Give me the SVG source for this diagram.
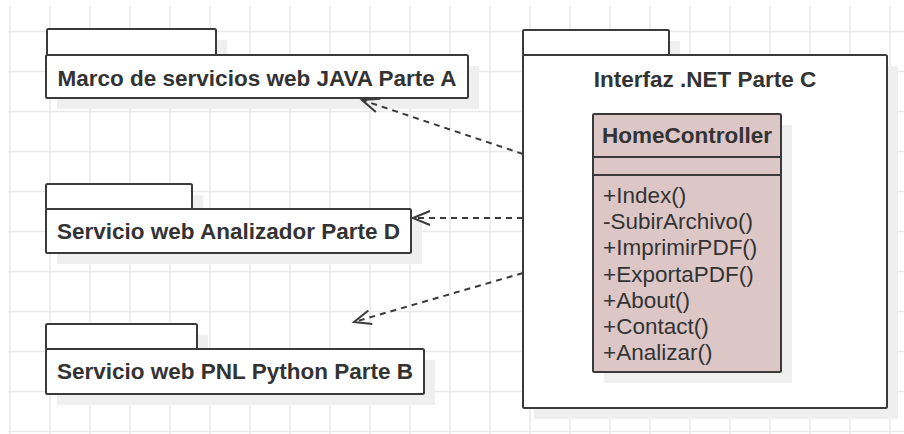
<svg xmlns="http://www.w3.org/2000/svg" width="904" height="434" viewBox="0 0 904 434">
  <style>
    .grid line { stroke: #e9e9e9; stroke-width: 1.5; }
    .shadow { fill: #efefef; stroke: none; }
    .box { fill: #ffffff; stroke: #3a3a3a; stroke-width: 2; }
    .cls { fill: #dcc6c6; stroke: #3a3a3a; stroke-width: 2; }
    .sep { stroke: #3a3a3a; stroke-width: 2; }
    .title { font-family: "Liberation Sans", Arial, sans-serif; font-size: 22.5px; font-weight: bold; fill: #333333; text-anchor: middle; }
    .member { font-family: "Liberation Sans", Arial, sans-serif; font-size: 22.5px; fill: #333333; }
    .dep { fill: none; stroke: #3a3a3a; stroke-width: 2; stroke-dasharray: 6 5; }
    .head { fill: none; stroke: #3a3a3a; stroke-width: 2; stroke-dasharray: none; }
  </style>
  <defs>
    <marker id="open-arrow" markerUnits="userSpaceOnUse" markerWidth="40" markerHeight="40" refX="0" refY="0" orient="auto" overflow="visible">
      <path class="head" d="M -17 -7 L 0 0 L -17 7"/>
    </marker>
  </defs>

  <rect x="0" y="0" width="904" height="434" fill="#ffffff"/>

  <!-- background grid -->
  <g class="grid">
    <line x1="10" y1="6" x2="10" y2="434"/>
    <line x1="50" y1="6" x2="50" y2="434"/>
    <line x1="90" y1="6" x2="90" y2="434"/>
    <line x1="130" y1="6" x2="130" y2="434"/>
    <line x1="170" y1="6" x2="170" y2="434"/>
    <line x1="210" y1="6" x2="210" y2="434"/>
    <line x1="250" y1="6" x2="250" y2="434"/>
    <line x1="290" y1="6" x2="290" y2="434"/>
    <line x1="330" y1="6" x2="330" y2="434"/>
    <line x1="370" y1="6" x2="370" y2="434"/>
    <line x1="410" y1="6" x2="410" y2="434"/>
    <line x1="450" y1="6" x2="450" y2="434"/>
    <line x1="490" y1="6" x2="490" y2="434"/>
    <line x1="530" y1="6" x2="530" y2="434"/>
    <line x1="570" y1="6" x2="570" y2="434"/>
    <line x1="610" y1="6" x2="610" y2="434"/>
    <line x1="650" y1="6" x2="650" y2="434"/>
    <line x1="690" y1="6" x2="690" y2="434"/>
    <line x1="730" y1="6" x2="730" y2="434"/>
    <line x1="770" y1="6" x2="770" y2="434"/>
    <line x1="810" y1="6" x2="810" y2="434"/>
    <line x1="850" y1="6" x2="850" y2="434"/>
    <line x1="890" y1="6" x2="890" y2="434"/>
    <line x1="8" y1="31.5" x2="904" y2="31.5"/>
    <line x1="8" y1="71.5" x2="904" y2="71.5"/>
    <line x1="8" y1="111.5" x2="904" y2="111.5"/>
    <line x1="8" y1="151.5" x2="904" y2="151.5"/>
    <line x1="8" y1="191.5" x2="904" y2="191.5"/>
    <line x1="8" y1="231.5" x2="904" y2="231.5"/>
    <line x1="8" y1="271.5" x2="904" y2="271.5"/>
    <line x1="8" y1="311.5" x2="904" y2="311.5"/>
    <line x1="8" y1="351.5" x2="904" y2="351.5"/>
    <line x1="8" y1="391.5" x2="904" y2="391.5"/>
    <line x1="8" y1="431.5" x2="904" y2="431.5"/>
  </g>

  <!-- package: Marco de servicios web JAVA Parte A -->
  <g id="pkg-java-a">
    <path class="shadow" d="M58 40 H227 V66 H479 V109 H57 Z"/>
    <rect class="box" x="47" y="29" width="169" height="26" rx="1.5"/>
    <rect class="box" x="46" y="55" width="422" height="43" rx="1.5"/>
    <text class="title" x="257" y="86">Marco de servicios web JAVA Parte A</text>
  </g>

  <!-- package: Servicio web Analizador Parte D -->
  <g id="pkg-analizador-d">
    <path class="shadow" d="M57 195 H203 V220 H422 V264 H57 Z"/>
    <rect class="box" x="46" y="184" width="146" height="25" rx="1.5"/>
    <rect class="box" x="46" y="209" width="365" height="44" rx="1.5"/>
    <text class="title" x="228.5" y="239">Servicio web Analizador Parte D</text>
  </g>

  <!-- package: Servicio web PNL Python Parte B -->
  <g id="pkg-python-b">
    <path class="shadow" d="M57 335 H208 V360 H435 V405 H57 Z"/>
    <rect class="box" x="46" y="324" width="151" height="25" rx="1.5"/>
    <rect class="box" x="46" y="349" width="378" height="45" rx="1.5"/>
    <text class="title" x="235" y="379">Servicio web PNL Python Parte B</text>
  </g>

  <!-- package: Interfaz .NET Parte C -->
  <g id="pkg-net-c">
    <path class="shadow" d="M534 41 H680 V66 H898 V419 H534 Z"/>
    <rect class="box" x="523" y="30" width="146" height="25" rx="1.5"/>
    <rect class="box" x="523" y="55" width="364" height="353" rx="1.5"/>
    <text class="title" x="705" y="87">Interfaz .NET Parte C</text>
  </g>

  <!-- class: HomeController -->
  <g id="cls-homecontroller">
    <rect class="shadow" x="604" y="125" width="188" height="258"/>
    <rect class="cls" x="593" y="114" width="188" height="258" rx="1.5"/>
    <line class="sep" x1="593" y1="157" x2="781" y2="157"/>
    <line class="sep" x1="593" y1="175" x2="781" y2="175"/>
    <text class="title" x="687" y="143">HomeController</text>
    <text class="member" x="603" y="203">+Index()</text>
    <text class="member" x="603" y="229.2">-SubirArchivo()</text>
    <text class="member" x="603" y="255.4">+ImprimirPDF()</text>
    <text class="member" x="603" y="281.6">+ExportaPDF()</text>
    <text class="member" x="603" y="307.8">+About()</text>
    <text class="member" x="603" y="334">+Contact()</text>
    <text class="member" x="603" y="360.2">+Analizar()</text>
  </g>

  <!-- dependency connectors -->
  <g id="connectors">
    <line class="dep" x1="523" y1="154" x2="362" y2="100" marker-end="url(#open-arrow)"/>
    <line class="dep" x1="523" y1="218" x2="413" y2="218" marker-end="url(#open-arrow)"/>
    <line class="dep" x1="523" y1="273" x2="354" y2="322" marker-end="url(#open-arrow)"/>
  </g>
</svg>
